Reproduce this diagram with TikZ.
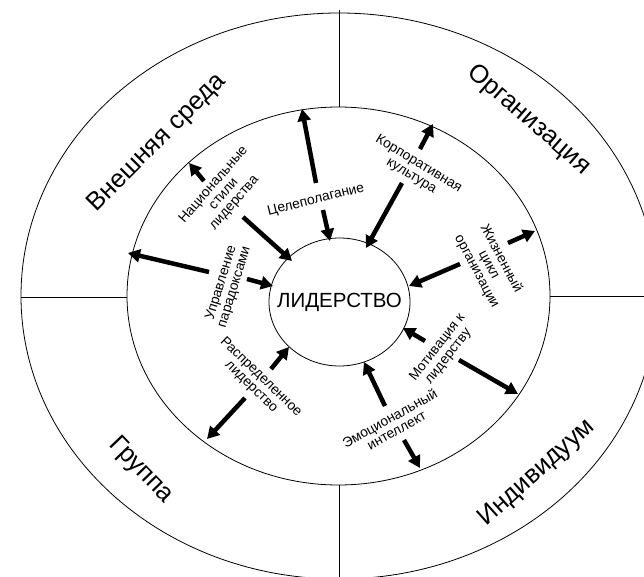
\documentclass[tikz,border=0pt]{standalone}
\usepackage{fontspec}
\setmainfont{Liberation Sans}
\usetikzlibrary{arrows.meta,shapes.geometric}
\tikzset{
  ring/.style={draw=black,line width=0.8pt},
  divider/.style={draw=black,line width=0.8pt},
  big/.style={font=\fontsize{25.5}{28}\selectfont,inner sep=0pt},
  small/.style={font=\fontsize{13.8}{13.8}\selectfont,align=center,inner sep=0pt},
  arr/.style={line width=4.5pt,-{Triangle[length=12pt,width=13pt]}},
}
\begin{document}
\begin{tikzpicture}[x=1pt,y=-1pt]
\useasboundingbox (0,0) rectangle (644,577);
\clip (0,0) rectangle (644,577);
\fill[white] (0,0) rectangle (644,577);
% rings
\draw[ring] (339,296) ellipse [x radius=318,y radius=283];
\draw[ring] (338.5,296) ellipse [x radius=211.5,y radius=189];
\node[ring,ellipse,minimum width=141pt,minimum height=128pt,inner sep=0pt] (lead) at (339.5,302) {};
\node[font=\fontsize{20.5}{22}\selectfont,inner sep=0pt] (leadtxt) at (lead.center) {ЛИДЕРСТВО};
% dividers
\coordinate (lo) at (21,297); \coordinate (li) at (127,297);
\coordinate (ri) at (550,296); \coordinate (ro) at (650,296);
\coordinate (to) at (339,10); \coordinate (ti) at (339,107);
\coordinate (bi) at (339,485); \coordinate (bo) at (339,580);
\draw[divider] (lo) -- (li);
\draw[divider] (ri) -- (ro);
\draw[divider] (to) -- (ti);
\draw[divider] (bi) -- (bo);
% sector labels
\node[big,rotate=45] (ext) at (157,143) {Внешняя среда};
\node[big,rotate=-41] (org) at (529,120) {Организация};
\node[big,rotate=-46] (grp) at (141,470) {Группа};
\node[big,rotate=42] (ind) at (537,473) {Индивидуум};
% factor labels
\node[small,rotate=49] (nat) at (224,194) {Национальные\\стили\\лидерства};
\node[small,rotate=14] (goal) at (316,200) {Целеполагание};
\node[small,rotate=-31] (corp) at (415,170) {Корпоративная\\культура};
\node[small,rotate=-62] (life) at (489,265) {Жизненный\\цикл\\организации};
\node[small,rotate=73] (par) at (228,285) {Управление\\парадоксами};
\node[small,rotate=-44] (dist) at (256,382) {Распределенное\\лидерство};
\node[small,rotate=52] (mot) at (443,352) {Мотивация к\\лидерству};
\node[small,rotate=29] (emo) at (393,424) {Эмоциональный\\интеллект};
% arrow end points
\coordinate (n1) at (204,181); \coordinate (n1t) at (189,163);
\coordinate (n2) at (243,217); \coordinate (n2t) at (292,261);
\coordinate (p1) at (209,272); \coordinate (p1t) at (128,253);
\coordinate (p2) at (247,279); \coordinate (p2t) at (273,286);
\coordinate (g1) at (316,183); \coordinate (g1t) at (302,109);
\coordinate (g2) at (323,210); \coordinate (g2t) at (330,241);
\coordinate (c1) at (420,149); \coordinate (c1t) at (433,124);
\coordinate (c2) at (402,183); \coordinate (c2t) at (366,248);
\coordinate (l1) at (508,243); \coordinate (l1t) at (535,231);
\coordinate (l2) at (460,264); \coordinate (l2t) at (409,286);
\coordinate (m1) at (425,341); \coordinate (m1t) at (403,328);
\coordinate (m2) at (459,360); \coordinate (m2t) at (518,394);
\coordinate (e1) at (385,406); \coordinate (e1t) at (364,362);
\coordinate (e2) at (404,440); \coordinate (e2t) at (420,468);
\coordinate (d1) at (271,369); \coordinate (d1t) at (289,347);
\coordinate (d2) at (245,398); \coordinate (d2t) at (207,439);
\foreach \a in {n1,n2,p1,p2,g1,g2,c1,c2,l1,l2,m1,m2,e1,e2,d1,d2}
  \draw[arr] (\a) -- (\a t);
\end{tikzpicture}
\end{document}
